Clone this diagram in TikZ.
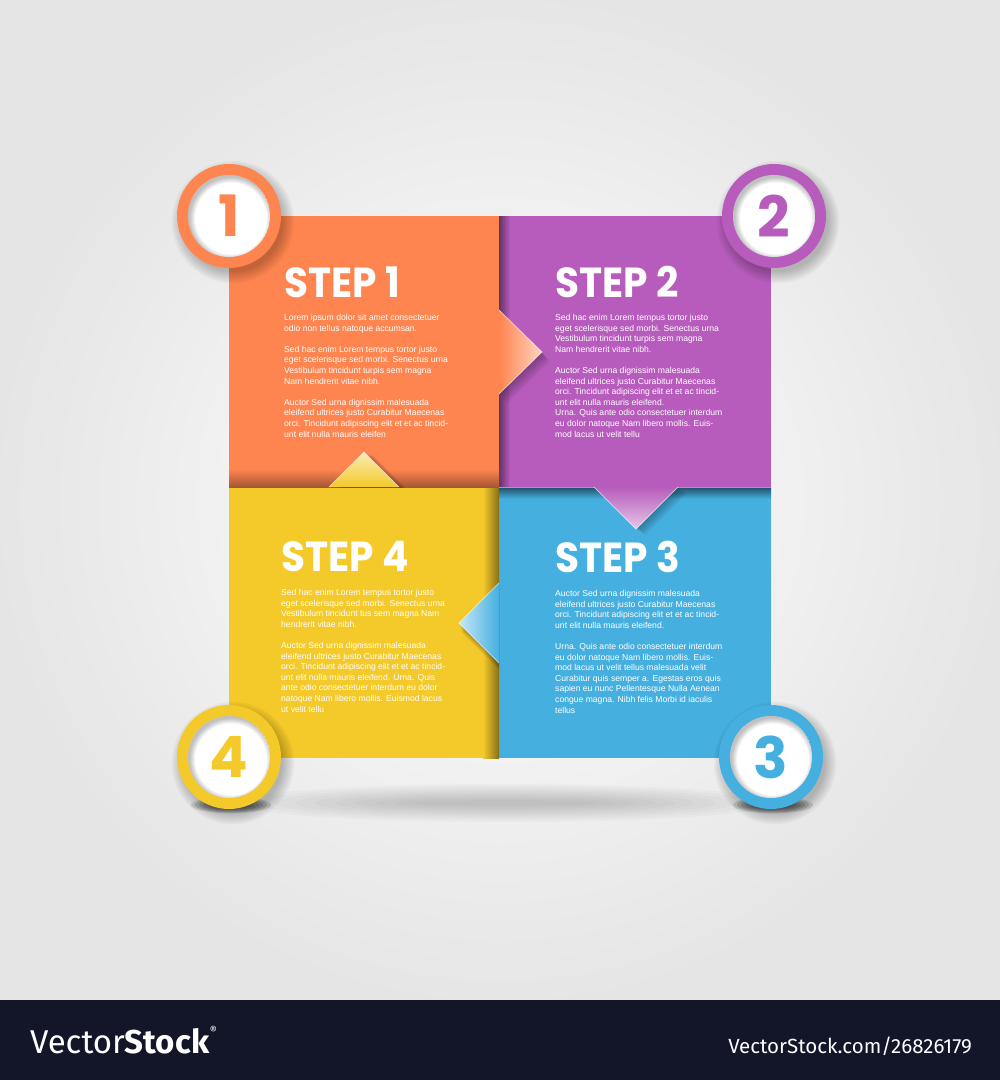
\documentclass[tikz,border=0pt]{standalone}
\usepackage{fontspec}
\setmainfont{Liberation Sans}
\newfontfamily\headfont{Poppins}
\newfontfamily\vsfont{Fira Sans}
\usetikzlibrary{calc}
\definecolor{cOr}{HTML}{FF8550}
\definecolor{cPu}{HTML}{B75CBC}
\definecolor{cYe}{HTML}{F4C92A}
\definecolor{cBl}{HTML}{45B0E0}
\definecolor{cBar}{HTML}{131628}
\tikzset{
  bodytext/.style={anchor=north west, inner sep=0pt, align=left, text=white,
    font=\fontsize{8.6}{10.6}\selectfont},
  headtext/.style={anchor=base west, inner sep=0pt, text=white,
    font=\headfont\bfseries\fontsize{42}{42}\selectfont},
  numtext/.style={inner sep=0pt, font=\headfont\bfseries\fontsize{57}{57}\selectfont},
  edgeline/.style={white, opacity=0.55, line width=0.8pt},
}
\newcommand\circshadow[1]{%
  \foreach \k in {0,...,7}{\fill[black,opacity=0.03] ($(#1)+(4,6)$) circle ({50+\k*1.6});}}
\newcommand\numcircle[3]{% coord, colour, digit
  \fill[#2] (#1) circle (52);
  \fill[white] (#1) circle (41);
  \begin{scope}
    \clip (#1) circle (41);
    \foreach \r in {41,40,39,38,37,36}{\fill[black,opacity=0.045,even odd rule] (#1) circle (41) ($(#1)+(2,2.5)$) circle (\r);}
  \end{scope}
  \node[numtext, text=#2] (n#3) at (#1) {#3};}
\newcommand\stephead[1]{\scalebox{0.93}[1]{#1}}
\begin{document}
\begin{tikzpicture}[x=1pt,y=-1pt]
\useasboundingbox (0,0) rectangle (1000,1080);
% background
\shade[inner color=white, outer color=black!10] (0,0) rectangle (1000,1000);
\fill[cBar] (0,1000) rectangle (1000,1080);
% coordinates
\coordinate (c1) at (229,216);
\coordinate (c2) at (774,216);
\coordinate (c3) at (771,757);
\coordinate (c4) at (229,757);
% ground shadows
\foreach \k in {0,...,9}{\fill[black,opacity=0.02] (505,803) ellipse ({90+\k*20} and {3+\k*1.8});}
\foreach \k in {0,...,7}{\fill[black,opacity=0.12] (231,805) ellipse ({12+\k*4} and {2+\k*0.9});}
\foreach \k in {0,...,7}{\fill[black,opacity=0.12] (773,805) ellipse ({12+\k*4} and {2+\k*0.9});}
% boxes
\fill[cOr] (229,216) rectangle (499,487);
\fill[cPu] (499,216) rectangle (771,487);
\fill[cYe] (229,487) rectangle (499,758);
\fill[cBl] (499,487) rectangle (771,758);
% edge shadows
\shade[left color=cPu!55!black, right color=cPu] (499,216) rectangle (510,487);
\shade[top color=cBl!45!black, bottom color=cBl] (499,487) rectangle (771,499);
\shade[left color=cYe, right color=cYe!55!black] (483,487) rectangle (499,758);
\shade[top color=cOr, bottom color=cOr!65!black] (229,469) rectangle (499,487);
\draw[white,opacity=0.5,line width=0.8pt] (499,487) -- (771,487);
% arrow shadows
\begin{scope}
  \clip (499,216) rectangle (771,487);
  \foreach \k in {1,...,6}{\fill[black,opacity=0.05,shift={(\k*1.3,\k*1.6)}] (499,310) -- (542,352) -- (499,394) -- cycle;}
\end{scope}
\begin{scope}
  \clip (499,487) rectangle (771,758);
  \foreach \k in {1,...,6}{\fill[black,opacity=0.05,shift={(\k*1.6,\k*1.0)}] (594,487) -- (636,529) -- (678,487) -- cycle;}
\end{scope}
\begin{scope}
  \clip (229,216) rectangle (499,487);
  \foreach \k in {1,...,6}{\fill[black,opacity=0.05,shift={(\k*1.6,\k*0.6)}] (329,487) -- (364,452) -- (399,487) -- cycle;}
\end{scope}
\begin{scope}
  \clip (229,487) rectangle (499,758);
  \foreach \k in {1,...,6}{\fill[black,opacity=0.05,shift={(\k*0.5,\k*1.6)}] (499,583) -- (459,623) -- (499,663) -- cycle;}
\end{scope}
% arrows
\shade[left color=cOr, middle color=cOr, right color=cOr!35!white] (499,310) -- (542,352) -- (499,394) -- cycle;
\draw[edgeline] (499,310) -- (542,352) -- (499,394);
\shade[top color=cPu, middle color=cPu, bottom color=cPu!35!white] (594,487) -- (636,529) -- (678,487) -- cycle;
\draw[edgeline] (594,487) -- (636,529) -- (678,487);
\shade[bottom color=cYe, middle color=cYe, top color=cYe!35!white] (329,487) -- (364,452) -- (399,487) -- cycle;
\draw[edgeline] (329,487) -- (364,452) -- (399,487);
\shade[right color=cBl, middle color=cBl, left color=cBl!30!white] (499,583) -- (459,623) -- (499,663) -- cycle;
\draw[edgeline] (499,583) -- (459,623) -- (499,663);
% circles
\circshadow{c1}\circshadow{c2}\circshadow{c3}\circshadow{c4}
\numcircle{c1}{cOr}{1}
\numcircle{c2}{cPu}{2}
\numcircle{c3}{cBl}{3}
\numcircle{c4}{cYe}{4}
% headings
\node[headtext] (h1) at (284,297) {\stephead{STEP 1}};
\node[headtext] (h2) at (555,297) {\stephead{STEP 2}};
\node[headtext] (h4) at (281,571) {\stephead{STEP 4}};
\node[headtext] (h3) at (555,572) {\stephead{STEP 3}};
% body texts
\node[bodytext] (t1) at (284,314) {Lorem ipsum dolor sit amet consectetuer\\
odio non tellus natoque accumsan.\\[10.6pt]
Sed hac enim Lorem tempus tortor justo\\
eget scelerisque sed morbi. Senectus urna\\
Vestibulum tincidunt turpis sem magna\\
Nam hendrerit vitae nibh.\\[10.6pt]
Auctor Sed urna dignissim malesuada\\
eleifend ultrices justo Curabitur Maecenas\\
orci. Tincidunt adipiscing elit et et ac tincid-\\
unt elit nulla mauris eleifen};
\node[bodytext] (t2) at (555,314) {Sed hac enim Lorem tempus tortor justo\\
eget scelerisque sed morbi. Senectus urna\\
Vestibulum tincidunt turpis sem magna\\
Nam hendrerit vitae nibh.\\[10.6pt]
Auctor Sed urna dignissim malesuada\\
eleifend ultrices justo Curabitur Maecenas\\
orci. Tincidunt adipiscing elit et et ac tincid-\\
unt elit nulla mauris eleifend.\\
Urna. Quis ante odio consectetuer interdum\\
eu dolor natoque Nam libero mollis. Euis-\\
mod lacus ut velit tellu};
\node[bodytext] (t4) at (281,589) {Sed hac enim Lorem tempus tortor justo\\
eget scelerisque sed morbi. Senectus urna\\
Vestibulum tincidunt tus sem magna Nam\\
hendrerit vitae nibh.\\[10.6pt]
Auctor Sed urna dignissim malesuada\\
eleifend ultrices justo Curabitur Maecenas\\
orci. Tincidunt adipiscing elit et et ac tincid-\\
unt elit nulla mauris eleifend. Urna. Quis\\
ante odio consectetuer interdum eu dolor\\
natoque Nam libero mollis. Euismod lacus\\
ut velit tellu};
\node[bodytext] (t3) at (555,590) {Auctor Sed urna dignissim malesuada\\
eleifend ultrices justo Curabitur Maecenas\\
orci. Tincidunt adipiscing elit et et ac tincid-\\
unt elit nulla mauris eleifend.\\[10.6pt]
Urna. Quis ante odio consectetuer interdum\\
eu dolor natoque Nam libero mollis. Euis-\\
mod lacus ut velit tellus malesuada velit\\
Curabitur quis semper a. Egestas eros quis\\
sapien eu nunc Pellentesque Nulla Aenean\\
congue magna. Nibh felis Morbi id iaculis\\
tellus};
% footer
\node[anchor=base west, inner sep=0pt, text=white, font=\vsfont\fontsize{33}{33}\selectfont] (vs) at (30,1053) {Vector\textbf{Stock}};
\node[anchor=north west, inner sep=0pt, text=white, font=\vsfont\fontsize{11}{11}\selectfont] (reg) at ([yshift=2pt]vs.north east) {®};
\node[anchor=base east, inner sep=0pt, text=white, font=\vsfont\fontsize{20.5}{20.5}\selectfont] (url) at (972,1053) {VectorStock.com/26826179};
\end{tikzpicture}
\end{document}
